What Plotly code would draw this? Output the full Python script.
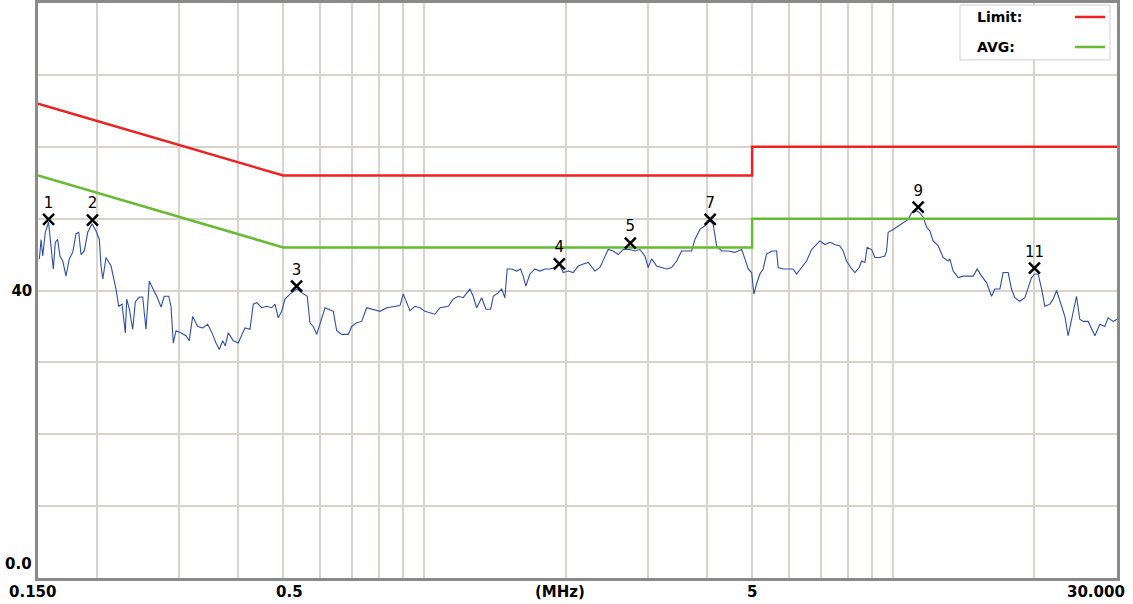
import math
import plotly.graph_objects as go

# ---------------- data ----------------
freq_mhz = [
    0.151, 0.1523, 0.1535, 0.1555, 0.158, 0.160, 0.1617, 0.1633, 0.1652, 0.1671,
    0.1694, 0.1721, 0.1749, 0.1779, 0.1808, 0.1832, 0.1853, 0.1883, 0.1915, 0.1956,
    0.1994, 0.2027, 0.2044, 0.2062, 0.2095, 0.2147, 0.2200, 0.2230, 0.2266, 0.2303,
    0.2319, 0.2349, 0.2388, 0.2419, 0.2466, 0.2508, 0.2549, 0.2591, 0.2634, 0.2687,
    0.2745, 0.2789, 0.2850, 0.2882, 0.2915, 0.2954, 0.3027, 0.3102, 0.3152, 0.3206,
    0.3285, 0.3367, 0.3451, 0.3525, 0.3595, 0.3653, 0.3715, 0.3763, 0.3819, 0.3913,
    0.4010, 0.4077, 0.4144, 0.4247, 0.4317, 0.4389, 0.4499, 0.4611, 0.4725, 0.4802,
    0.4881, 0.4962, 0.5044, 0.5169, 0.5342, 0.5475, 0.5627, 0.5703, 0.5796, 0.5894,
    0.5990, 0.6140, 0.6240, 0.6395, 0.6503, 0.6665, 0.6884, 0.6998, 0.7173, 0.7351,
    0.7534, 0.7780, 0.8041, 0.8310, 0.8585, 0.8872, 0.9016, 0.9168, 0.9317, 0.9550,
    0.9786, 1.003, 1.028, 1.053, 1.080, 1.125, 1.152, 1.181, 1.210, 1.231,
    1.251, 1.271, 1.293, 1.325, 1.353, 1.385, 1.403, 1.438, 1.462, 1.485,
    1.502, 1.535, 1.573, 1.604, 1.625, 1.646, 1.679, 1.721, 1.764, 1.808,
    1.853, 1.898, 1.940, 1.978, 2.027, 2.077, 2.129, 2.182, 2.236, 2.311,
    2.368, 2.415, 2.466, 2.528, 2.591, 2.655, 2.745, 2.812, 2.882, 2.954,
    3.002, 3.053, 3.128, 3.206, 3.285, 3.367, 3.451, 3.537, 3.625, 3.715,
    3.776, 3.869, 3.966, 4.064, 4.130, 4.200, 4.304, 4.446, 4.595, 4.749,
    4.827, 4.905, 4.988, 5.044, 5.110, 5.194, 5.279, 5.369, 5.456, 5.502,
    5.639, 5.683, 5.824, 5.969, 6.116, 6.219, 6.376, 6.534, 6.696, 6.864,
    6.975, 7.149, 7.326, 7.507, 7.692, 7.819, 7.950, 8.110, 8.282, 8.459,
    8.559, 8.699, 8.798, 8.991, 9.138, 9.363, 9.596, 9.676, 9.752, 9.995,
    10.24, 10.50, 10.76, 10.94, 11.21, 11.39, 11.58, 11.78, 11.97, 12.16,
    12.47, 12.78, 13.09, 13.20, 13.42, 13.75, 14.09, 14.44, 14.81, 15.10,
    15.43, 15.81, 16.20, 16.47, 16.88, 17.15, 17.58, 17.87, 18.16, 18.62,
    19.08, 19.40, 19.72, 20.04, 20.37, 20.72, 21.05, 21.58, 21.93, 22.30,
    22.74, 23.22, 23.60, 23.99, 24.59, 24.99, 25.40, 26.04, 26.91, 27.58,
    28.25, 28.72, 29.43, 30.0,
]
level_dbuv = [
    44.4, 47.1, 44.8, 48.1, 49.5, 46.2, 43.0, 46.7, 47.1, 44.8,
    44.1, 42.0, 44.4, 45.3, 47.9, 48.1, 45.0, 45.5, 48.1, 49.3,
    48.3, 47.1, 43.4, 41.6, 44.6, 43.4, 40.2, 37.8, 38.1, 34.1,
    38.8, 37.4, 34.6, 38.4, 39.1, 39.1, 34.6, 41.3, 40.4, 39.2,
    37.7, 39.2, 39.2, 37.8, 32.7, 34.4, 34.1, 33.7, 33.0, 36.4,
    35.0, 34.8, 35.3, 34.1, 32.7, 31.8, 33.0, 32.3, 34.1, 33.0,
    32.7, 33.7, 34.8, 34.6, 38.1, 38.3, 37.6, 37.8, 37.6, 38.1,
    36.2, 37.1, 38.8, 39.5, 40.2, 39.7, 39.2, 35.5, 35.0, 33.9,
    35.5, 37.6, 37.4, 37.1, 34.4, 33.9, 33.9, 35.0, 35.5, 35.7,
    37.6, 37.4, 37.1, 37.6, 37.8, 37.9, 39.5, 38.4, 37.2, 37.8,
    37.6, 37.1, 36.9, 36.7, 37.6, 37.8, 38.8, 39.2, 39.0, 39.7,
    40.2, 39.2, 37.6, 39.0, 37.4, 37.4, 39.2, 39.7, 40.2, 39.0,
    43.0, 43.0, 42.7, 43.0, 42.0, 40.6, 42.3, 43.0, 42.7, 43.0,
    43.0, 43.2, 43.7, 42.5, 42.7, 42.5, 43.4, 43.7, 43.9, 42.7,
    43.2, 44.4, 45.7, 45.5, 45.0, 45.7, 45.7, 45.5, 45.7, 44.8,
    43.2, 44.4, 43.4, 43.2, 43.0, 43.2, 44.1, 45.5, 45.5, 45.5,
    47.1, 48.5, 49.0, 49.7, 49.2, 46.2, 45.5, 45.5, 45.3, 45.7,
    44.4, 43.0, 42.5, 39.5, 40.9, 42.3, 43.0, 45.1, 45.3, 45.5,
    45.5, 43.2, 43.0, 43.0, 43.0, 42.3, 43.2, 44.1, 45.7, 46.4,
    46.9, 46.4, 46.7, 46.4, 46.2, 45.5, 44.1, 43.2, 42.5, 43.2,
    44.1, 43.9, 46.0, 45.7, 44.6, 44.6, 44.8, 45.5, 48.1, 48.5,
    49.0, 49.5, 49.9, 50.8, 51.1, 50.8, 50.2, 48.8, 48.3, 46.9,
    46.2, 44.6, 44.1, 44.4, 42.7, 41.8, 42.0, 42.0, 42.0, 43.0,
    42.0, 41.1, 39.2, 40.2, 40.2, 42.5, 42.5, 40.2, 39.0, 38.5,
    39.0, 40.4, 41.8, 42.3, 42.3, 40.2, 37.8, 38.1, 38.8, 40.0,
    38.1, 36.4, 33.7, 36.0, 39.2, 36.0, 35.7, 35.7, 33.7, 35.3,
    35.0, 36.2, 35.7, 36.0,
]

limit_freq = [0.15, 0.5, 5, 5, 30]
limit_qp = [66, 56, 56, 60, 60]
limit_avg = [56, 46, 46, 50, 50]

marker_ids = ["1", "2", "3", "4", "5", "7", "9", "11"]
marker_freq = [0.158, 0.196, 0.534, 1.94, 2.75, 4.07, 11.3, 20.0]
marker_level = [49.9, 49.8, 40.6, 43.7, 46.6, 49.9, 51.6, 43.1]

x_grid_vals = [0.2, 0.3, 0.4, 0.5, 0.6, 0.7, 0.8, 0.9, 1, 2, 3, 4, 5, 6, 7, 8, 9, 10, 20]
x_label_vals = [0.15, 0.5, 1.95, 5, 30]
x_label_text = ["0.150", "0.5", "(MHz)", "5", "30.000"]
y_grid_vals = [0, 10, 20, 30, 40, 50, 60, 70, 80]
y_tick_text = ["", "", "", "", "40", "", "", "", ""]

legend_names = ["Limit:", "AVG:"]

RED = "#ee2020"
GREEN = "#66bb33"
BLUE = "#2f4fa6"
GRID = "#d8d4cc"
FONT = "DejaVu Sans"

fig = go.Figure()
fig.add_trace(go.Scatter(x=freq_mhz, y=level_dbuv, mode="lines",
                         line=dict(color=BLUE, width=1.1), hoverinfo="skip"))
fig.add_trace(go.Scatter(x=limit_freq, y=limit_qp, mode="lines",
                         line=dict(color=RED, width=2.5, shape="linear")))
fig.add_trace(go.Scatter(x=limit_freq, y=limit_avg, mode="lines",
                         line=dict(color=GREEN, width=2.5, shape="linear")))
fig.add_trace(go.Scatter(x=marker_freq, y=marker_level, mode="markers+text",
                         text=marker_ids, textposition="top center",
                         textfont=dict(family=FONT, size=15, color="black"),
                         marker=dict(symbol="x-thin", size=11,
                                     line=dict(color="black", width=2.5))))

# x labels as annotations
anchors = ["center", "center", "center", "center", "right"]
shifts = [-6, 6, 0, 0, 10]
for v, t, a, s in zip(x_label_vals, x_label_text, anchors, shifts):
    fig.add_annotation(x=math.log10(v), y=0, xref="x", yref="paper",
                       text=t, showarrow=False, xanchor=a, yanchor="top",
                       xshift=s, yshift=-3,
                       font=dict(family=FONT, size=15, color="black", weight="bold"))
fig.add_annotation(x=0, y=2, xref="paper", yref="y", text="0.0", showarrow=False,
                   xanchor="right", yanchor="middle", xshift=-4,
                   font=dict(family=FONT, size=15, color="black", weight="bold"))

# legend box
fig.add_shape(type="rect", xref="paper", yref="paper", x0=0.8545, x1=0.9935,
              y0=0.901, y1=0.9965, fillcolor="white", line=dict(color="#cfcfcf", width=1),
              layer="above")
for name, col, yy in zip(legend_names, [RED, GREEN], [0.9757, 0.9235]):
    fig.add_annotation(x=0.8684, y=yy, xref="paper", yref="paper", text=name,
                       showarrow=False, xanchor="left", yanchor="middle",
                       font=dict(family=FONT, size=14, color="black", weight="bold"))
    fig.add_shape(type="line", xref="paper", yref="paper", x0=0.961, x1=0.989,
                  y0=yy, y1=yy, line=dict(color=col, width=2.5), layer="above")

fig.update_layout(
    width=1133, height=604,
    margin=dict(l=38, r=16, t=3, b=26),
    paper_bgcolor="white", plot_bgcolor="white",
    showlegend=False,
    xaxis=dict(type="log", range=[math.log10(0.15), math.log10(30)],
               tickmode="array", tickvals=x_grid_vals,
               ticktext=[""] * len(x_grid_vals),
               showgrid=True, gridcolor=GRID, gridwidth=1.5,
               showline=True, mirror=True, linecolor="#8a8a8a", linewidth=2.5,
               zeroline=False, ticks="", automargin=False),
    yaxis=dict(range=[0, 80], tickmode="array", tickvals=y_grid_vals,
               ticktext=y_tick_text,
               showgrid=True, gridcolor=GRID, gridwidth=1.5,
               showline=True, mirror=True, linecolor="#8a8a8a", linewidth=2.5,
               zeroline=False, ticks="", automargin=False,
               tickfont=dict(family=FONT, size=15, color="black", weight="bold")),
)

fig.write_html("out.html", config={"displayModeBar": False},
               post_script="document.body.style.margin='0';document.body.style.overflow='hidden';")
